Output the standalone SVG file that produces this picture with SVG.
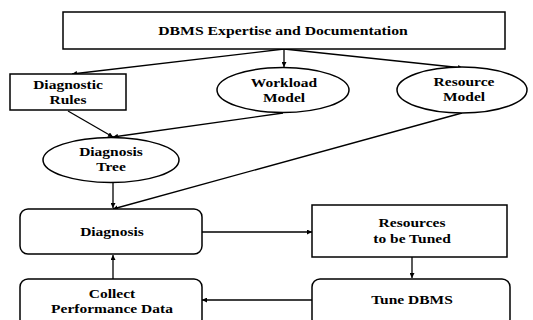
<svg xmlns="http://www.w3.org/2000/svg" width="533" height="320" viewBox="0 0 533 320">
  <defs>
    <marker id="arrow" viewBox="0 0 10 10" refX="10" refY="5" markerWidth="5" markerHeight="5" orient="auto" markerUnits="userSpaceOnUse">
      <path d="M0,0 L10,5 L0,10 z" fill="#000"/>
    </marker>
    <style>
      .box { fill: #fff; stroke: #000; stroke-width: 1.5; }
      .edge { fill: none; stroke: #000; stroke-width: 1.3; marker-end: url(#arrow); }
      .lbl { font-family: "Liberation Serif", "Times New Roman", serif; font-weight: bold; font-size: 12.5px; fill: #000; text-anchor: middle; }
    </style>
  </defs>
  <rect width="533" height="320" fill="#fff"/>

  <!-- connectors -->
  <g id="connectors">
    <line class="edge" x1="284" y1="49" x2="72" y2="74"/>
    <line class="edge" x1="284" y1="49" x2="284" y2="67"/>
    <line class="edge" x1="284" y1="49" x2="463" y2="68"/>
    <line class="edge" x1="68" y1="111" x2="113" y2="137"/>
    <line class="edge" x1="283" y1="113" x2="113" y2="137"/>
    <line class="edge" x1="113" y1="183" x2="113" y2="208"/>
    <line class="edge" x1="462" y1="113" x2="113" y2="209"/>
    <line class="edge" x1="202" y1="232" x2="312" y2="232"/>
    <line class="edge" x1="412" y1="257" x2="412" y2="278"/>
    <line class="edge" x1="312" y1="300" x2="202" y2="300"/>
    <line class="edge" x1="113" y1="279" x2="113" y2="255"/>
  </g>

  <g id="expertise">
    <rect class="box" x="63" y="12" width="442" height="37"/>
    <text class="lbl" transform="translate(283 35) scale(1.26 1)">DBMS Expertise and Documentation</text>
  </g>

  <g id="rules">
    <rect class="box" x="10" y="74" width="116" height="36"/>
    <text class="lbl" transform="translate(68 89) scale(1.24 1)">Diagnostic</text>
    <text class="lbl" transform="translate(68 104) scale(1.24 1)">Rules</text>
  </g>

  <g id="workload">
    <ellipse class="box" cx="283" cy="90" rx="66" ry="22.5"/>
    <text class="lbl" transform="translate(284 87) scale(1.24 1)">Workload</text>
    <text class="lbl" transform="translate(284 102) scale(1.24 1)">Model</text>
  </g>

  <g id="resource">
    <ellipse class="box" cx="462" cy="90" rx="65" ry="23"/>
    <text class="lbl" transform="translate(464 86) scale(1.24 1)">Resource</text>
    <text class="lbl" transform="translate(464 101) scale(1.24 1)">Model</text>
  </g>

  <g id="tree">
    <ellipse class="box" cx="111" cy="160" rx="68" ry="22.5"/>
    <text class="lbl" transform="translate(111 156) scale(1.24 1)">Diagnosis</text>
    <text class="lbl" transform="translate(111 171) scale(1.24 1)">Tree</text>
  </g>

  <g id="diagnosis">
    <rect class="box" x="20" y="209" width="182" height="45" rx="8"/>
    <text class="lbl" transform="translate(112 236) scale(1.24 1)">Diagnosis</text>
  </g>

  <g id="tuned">
    <rect class="box" x="312" y="205" width="195" height="52"/>
    <text class="lbl" transform="translate(412 227) scale(1.24 1)">Resources</text>
    <text class="lbl" transform="translate(412 243) scale(1.24 1)">to be Tuned</text>
  </g>

  <g id="tune">
    <rect class="box" x="312" y="279" width="198" height="48" rx="8"/>
    <text class="lbl" transform="translate(412 304) scale(1.24 1)">Tune DBMS</text>
  </g>

  <g id="collect">
    <rect class="box" x="20" y="279" width="182" height="48" rx="8"/>
    <text class="lbl" transform="translate(112 298) scale(1.24 1)">Collect</text>
    <text class="lbl" transform="translate(112 313) scale(1.24 1)">Performance Data</text>
  </g>
</svg>
